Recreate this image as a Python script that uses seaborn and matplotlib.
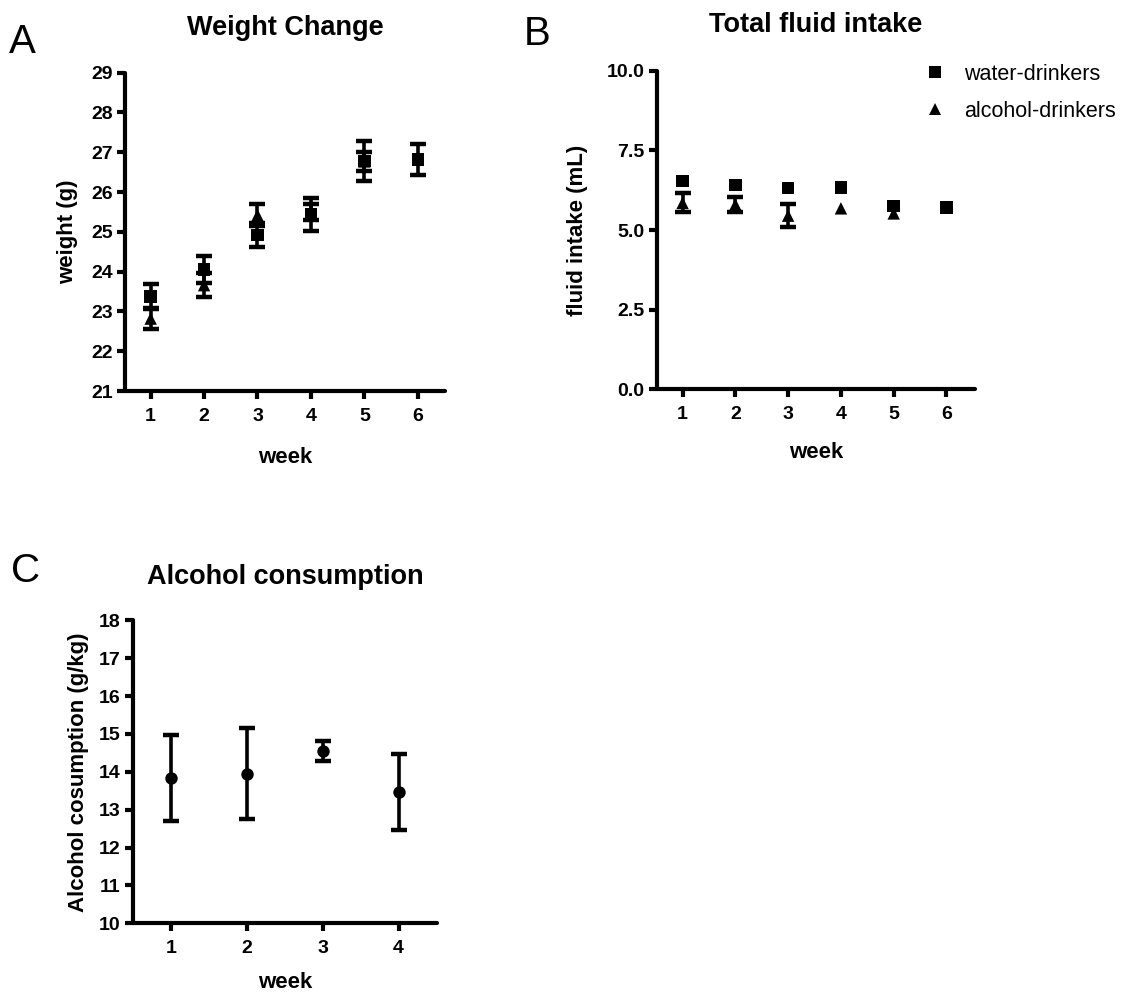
import numpy as np
import pandas as pd
import matplotlib
matplotlib.use("Agg")
import matplotlib.pyplot as plt
import seaborn as sns

# values
weeks = [1, 2, 3, 4, 5, 6]
groups = ["water-drinkers", "alcohol-drinkers"]

weight_water = [23.38, 24.05, 24.92, 25.44, 26.78, 26.82]
weight_water_err = [0.32, 0.34, 0.31, 0.42, 0.51, 0.38]
weight_alcohol = [22.82, 23.66, 25.42, 25.49, 26.77, np.nan]
weight_alcohol_err = [0.26, 0.31, 0.28, 0.20, 0.24, np.nan]

fluid_water = [6.54, 6.41, 6.31, 6.33, 5.76, 5.71]
fluid_water_err = [np.nan] * 6  # bars hidden behind the markers
fluid_alcohol = [5.85, 5.80, 5.45, 5.68, 5.52, np.nan]
fluid_alcohol_err = [0.30, 0.25, 0.36, np.nan, np.nan, np.nan]

alc_weeks = [1, 2, 3, 4]
alc_consumption = [13.83, 13.95, 14.55, 13.46]
alc_consumption_err = [1.13, 1.20, 0.26, 1.00]

sns.set_style("ticks")
plt.rcParams["font.family"] = ["Liberation Sans", "DejaVu Sans"]
for key in ["text.color", "axes.labelcolor", "xtick.color", "ytick.color", "axes.edgecolor"]:
    plt.rcParams[key] = "black"

W, H = 1130, 996
fig = plt.figure(figsize=(W / 100, H / 100), dpi=100)


def px_axes(left, right, top, bottom):
    return fig.add_axes([left / W, 1 - bottom / H, (right - left) / W, (bottom - top) / H])


ax_a = px_axes(125, 445, 72.7, 391)
ax_b = px_axes(656.7, 975, 70.7, 389.3)
ax_c = px_axes(133.3, 437.3, 620.3, 923.3)

markers = {"water-drinkers": "s", "alcohol-drinkers": "^"}


def long_frame(water, alcohol):
    return pd.DataFrame({
        "week": weeks * 2,
        "value": list(water) + list(alcohol),
        "group": [groups[0]] * len(weeks) + [groups[1]] * len(weeks),
    })


def style_axis(ax):
    sns.despine(ax=ax)
    for side in ["left", "bottom"]:
        ax.spines[side].set_linewidth(3)
        ax.spines[side].set_capstyle("round")
    ax.tick_params(width=3, length=6, labelsize=14)
    ax.tick_params(axis="x", pad=6)
    ax.tick_params(axis="y", pad=3)
    for lab in ax.get_xticklabels() + ax.get_yticklabels():
        lab.set_fontweight("bold")


def draw_bars(ax, x, y, err):
    x, y, err = np.asarray(x, float), np.asarray(y, float), np.asarray(err, float)
    ok = ~np.isnan(err)
    if ok.any():
        _, caps, bars = ax.errorbar(x[ok], y[ok], yerr=err[ok], fmt="none", ecolor="black",
                                    elinewidth=2.6, capsize=6, capthick=3.2)
        for b in bars:
            b.set_capstyle("round")


label_kw = dict(fontsize=16, fontweight="bold")
title_kw = dict(fontsize=19.5, fontweight="bold")

# A: weight change
draw_bars(ax_a, weeks, weight_water, weight_water_err)
draw_bars(ax_a, weeks, weight_alcohol, weight_alcohol_err)
sns.scatterplot(data=long_frame(weight_water, weight_alcohol), x="week", y="value",
                style="group", markers=markers, color="black", s=80,
                edgecolor="black", linewidth=0, legend=False, ax=ax_a, zorder=3)
ax_a.set_xlim(0.52, 6.51)
ax_a.set_ylim(21, 29)
ax_a.set_xticks(weeks)
ax_a.set_yticks(range(21, 30))
ax_a.set_xlabel("week", labelpad=16, **label_kw)
ax_a.set_ylabel("weight (g)", labelpad=9, **label_kw)
ax_a.set_title("Weight Change", pad=27, **title_kw)
style_axis(ax_a)

# B: total fluid intake
draw_bars(ax_b, weeks, fluid_water, fluid_water_err)
draw_bars(ax_b, weeks, fluid_alcohol, fluid_alcohol_err)
sns.scatterplot(data=long_frame(fluid_water, fluid_alcohol), x="week", y="value",
                style="group", markers=markers, color="black", s=80,
                edgecolor="black", linewidth=0, ax=ax_b, zorder=3)
ax_b.set_xlim(0.51, 6.54)
ax_b.set_ylim(0, 10)
ax_b.set_xticks(weeks)
ax_b.set_yticks([0, 2.5, 5, 7.5, 10])
ax_b.yaxis.set_major_formatter(matplotlib.ticker.FormatStrFormatter("%.1f"))
ax_b.set_xlabel("week", labelpad=14, **label_kw)
ax_b.set_ylabel("fluid intake (mL)", labelpad=13, **label_kw)
ax_b.set_title("Total fluid intake", pad=28, **title_kw)
style_axis(ax_b)
handles, labels = ax_b.get_legend_handles_labels()
keep = [(h, l) for h, l in zip(handles, labels) if l in groups]
ax_b.legend([k[0] for k in keep], [k[1] for k in keep], frameon=False,
            loc="upper left", bbox_to_anchor=(924 / W, 1 - 64 / H),
            bbox_transform=fig.transFigure, borderpad=0, borderaxespad=0,
            handlelength=1.0, handletextpad=0.85, labelspacing=0.74,
            fontsize=15.5)

# C: alcohol consumption
draw_bars(ax_c, alc_weeks, alc_consumption, alc_consumption_err)
sns.scatterplot(x=alc_weeks, y=alc_consumption, marker="o", color="black", s=80,
                linewidth=0, ax=ax_c, zorder=3)
ax_c.set_xlim(0.5, 4.51)
ax_c.set_ylim(10, 18)
ax_c.set_xticks(alc_weeks)
ax_c.set_yticks(range(10, 19))
ax_c.set_xlabel("week", labelpad=11, **label_kw)
ax_c.set_ylabel("Alcohol cosumption (g/kg)", labelpad=7, **label_kw)
ax_c.set_title("Alcohol consumption", pad=26, **title_kw)
style_axis(ax_c)

# panel letters
for letter, x, y in [("A", 9, 53), ("B", 524, 45), ("C", 11, 582)]:
    fig.text(x / W, 1 - y / H, letter, fontsize=29, ha="left", va="baseline")

fig.savefig("out.png", dpi=100)
